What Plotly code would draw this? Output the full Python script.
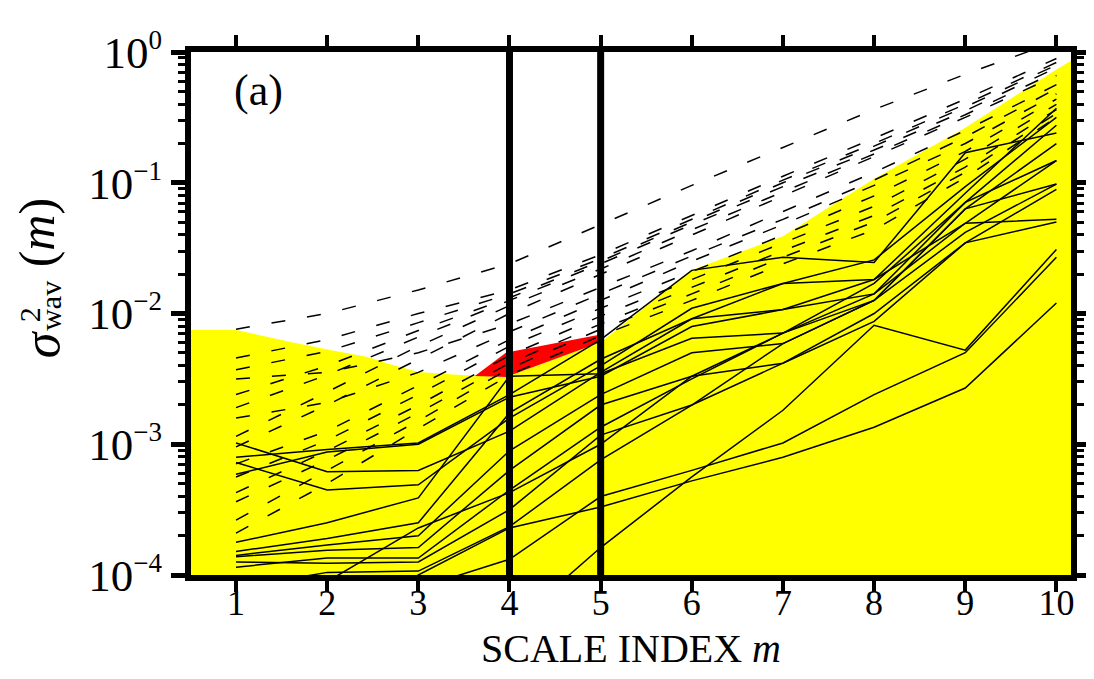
import numpy as np
import plotly.graph_objects as go

# ---------------- data (log10 of wavelet variance) ----------------
scales = [1, 2, 3, 4, 5, 6, 7, 8, 9, 10]

# upper edge of the yellow region
envelope_m = [0.45, 1.0, 1.6, 2.03, 2.43, 2.7, 3.0, 3.46, 3.96, 5.0, 6.0, 7.0, 8.0, 9.0, 10.0, 10.2]
envelope_log10 = [-2.126, -2.126, -2.218, -2.28, -2.33, -2.39, -2.447, -2.47, -2.486, -2.22,
                  -1.667, -1.41, -0.97, -0.58, -0.134, -0.05]

# red overlap region (upper edge, lower edge)
red_upper_m = [3.62, 3.96, 5.0]
red_upper_log10 = [-2.478, -2.30, -2.16]
red_lower_m = [5.0, 3.96, 3.62]
red_lower_log10 = [-2.22, -2.486, -2.478]

solid_log10 = [
    [-2.99, -3.21, -3.20, -2.90, -2.45, -2.04, -1.77, -1.59, -1.03, -0.50],
    [-3.10, -3.04, -2.99, -2.62, -2.20, -1.67, -1.57, -1.61, -0.77, -0.62],
    [-3.14, -3.35, -3.31, -2.80, -2.40, -1.96, -1.77, -1.74, -1.08, -0.43],
    [-3.23, -3.06, -3.00, -2.64, -2.48, -2.10, -1.97, -1.85, -1.15, -0.56],
    [-3.75, -3.60, -3.41, -2.48, -2.46, -2.19, -2.15, -1.90, -1.20, -0.70],
    [-3.82, -3.72, -3.60, -2.76, -2.35, -2.04, -1.97, -1.74, -1.31, -0.83],
    [-3.85, -3.77, -3.70, -3.05, -2.62, -2.30, -2.23, -1.90, -1.38, -1.01],
    [-3.86, -3.81, -3.79, -3.20, -2.70, -2.48, -2.38, -2.06, -1.46, -1.05],
    [-3.94, -3.87, -3.87, -3.35, -2.87, -2.50, -2.15, -1.85, -1.31, -1.28],
    [-3.90, -3.91, -3.90, -3.50, -2.93, -2.70, -2.38, -2.00, -1.46, -1.30],
    [-4.10, -3.98, -3.97, -3.63, -3.12, -2.70, -2.23, -1.90, -1.20, -1.01],
    [-4.40, -4.05, -3.64, -3.37, -3.00, -2.48, -2.15, -1.77, -1.15, -0.83],
    [-5.20, -4.90, -4.60, -4.40, -3.79, -3.25, -2.74, -2.09, -2.28, -1.51],
    [-4.80, -4.50, -4.00, -3.64, -3.48, -3.28, -3.10, -2.87, -2.57, -1.92],
    [-4.60, -4.30, -4.10, -3.88, -3.40, -3.20, -2.99, -2.62, -2.30, -1.57],
]

dashed_log10 = [
    [-2.12, -2.00, -1.82, -1.62, -1.32, -1.02, -0.73, -0.44, -0.17, 0.08],
    [-2.34, -2.20, -2.00, -1.82, -1.55, -1.25, -0.95, -0.66, -0.36, -0.05],
    [-2.43, -2.29, -2.07, -1.85, -1.58, -1.28, -0.98, -0.70, -0.40, -0.08],
    [-2.62, -2.40, -2.13, -1.88, -1.60, -1.30, -1.00, -0.72, -0.42, -0.10],
    [-2.72, -2.47, -2.18, -1.90, -1.62, -1.32, -1.03, -0.75, -0.45, -0.12],
    [-2.94, -2.60, -2.25, -1.94, -1.66, -1.36, -1.07, -0.78, -0.48, -0.15],
    [-3.02, -2.70, -2.35, -2.00, -1.70, -1.40, -1.10, -0.80, -0.50, -0.18],
    [-2.50, -2.45, -2.30, -2.08, -1.80, -1.52, -1.22, -0.92, -0.60, -0.25],
    [-2.80, -2.68, -2.45, -2.14, -1.85, -1.56, -1.28, -0.98, -0.65, -0.28],
    [-3.15, -2.90, -2.55, -2.20, -1.90, -1.60, -1.32, -1.02, -0.70, -0.32],
    [-3.25, -2.97, -2.62, -2.25, -1.96, -1.68, -1.40, -1.10, -0.76, -0.36],
    [-3.37, -3.05, -2.70, -2.32, -2.02, -1.74, -1.46, -1.18, -0.82, -0.40],
    [-3.44, -3.12, -2.76, -2.38, -2.08, -1.80, -1.52, -1.25, -0.88, -0.44],
    [-3.58, -3.20, -2.82, -2.42, -2.12, -1.85, -1.57, -1.30, -0.92, -0.47],
    [-3.68, -3.30, -2.88, -2.47, -2.17, -1.90, -1.62, -1.36, -0.96, -0.50],
]

marked_scales = [4, 5]
x_ticks = [1, 2, 3, 4, 5, 6, 7, 8, 9, 10]
y_tick_exponents = [-4, -3, -2, -1, 0]
minor_mantissas = [2, 3, 4, 5, 6, 7, 8, 9]

# ---------------- figure ----------------
FONT = "Liberation Serif"
fig = go.Figure()

floor = 1e-6
env_x = envelope_m + [envelope_m[-1], envelope_m[0]]
env_y = [10 ** v for v in envelope_log10] + [floor, floor]
fig.add_trace(go.Scatter(x=env_x, y=env_y, fill="toself", fillcolor="#FFFF00",
                         line=dict(width=0), mode="lines", hoverinfo="skip"))

red_x = red_upper_m + red_lower_m
red_y = [10 ** v for v in red_upper_log10 + red_lower_log10]
fig.add_trace(go.Scatter(x=red_x, y=red_y, fill="toself", fillcolor="#FF0000",
                         line=dict(width=0), mode="lines", hoverinfo="skip"))

for series in solid_log10:
    fig.add_trace(go.Scatter(x=scales, y=[10 ** v for v in series], mode="lines",
                             line=dict(color="black", width=1.5)))

for series in dashed_log10:
    fig.add_trace(go.Scatter(x=scales, y=[10 ** v for v in series], mode="lines",
                             line=dict(color="black", width=1.5, dash="14px,22px")))

for m in marked_scales:
    fig.add_shape(type="line", x0=m, x1=m, y0=0, y1=1, xref="x", yref="paper",
                  line=dict(color="black", width=7), layer="above")

ytext = ["10<sup><span style='font-size:27px'>\u2212%d</span></sup>" % (-e) if e < 0
         else "10<sup><span style='font-size:27px'>0</span></sup>" for e in y_tick_exponents]
minor_vals = [k * 10.0 ** e for e in y_tick_exponents[:-1] for k in minor_mantissas]

fig.update_layout(
    width=1094, height=679,
    margin=dict(l=183, r=11, t=44, b=112),
    paper_bgcolor="white", plot_bgcolor="white",
    showlegend=False,
    font=dict(family=FONT, color="black"),
    xaxis=dict(range=[0.506, 10.16], tickvals=x_ticks, ticks="outside", ticklen=11,
               tickwidth=4, tickcolor="black", showline=True, linewidth=6, linecolor="black",
               mirror="ticks", showgrid=False, zeroline=False, ticklabelstandoff=-20,
               tickfont=dict(family=FONT, size=36)),
    yaxis=dict(type="log", range=[-4, 0], tickvals=[10 ** e for e in y_tick_exponents],
               ticktext=ytext, ticks="outside", ticklen=14, tickwidth=5, tickcolor="black",
               showline=True, linewidth=6, linecolor="black", mirror="ticks",
               showgrid=False, zeroline=False, tickfont=dict(family=FONT, size=45),
               minor=dict(tickmode="array", tickvals=minor_vals, ticks="outside", ticklen=7,
                          tickwidth=3, tickcolor="black", showgrid=False)),
)

# x-axis title
fig.add_annotation(text="SCALE INDEX <i>m</i>", x=0.5, y=-0.14, xref="paper", yref="paper",
                   showarrow=False, font=dict(family=FONT, size=40),
                   xanchor="center", yanchor="middle")

fig.add_annotation(text="(a)", x=0.077, y=0.927, xref="paper", yref="paper",
                   showarrow=False, font=dict(family=FONT, size=44), xanchor="center", yanchor="middle")

# y-axis title: sigma with stacked superscript/subscript
fig.add_annotation(text="<i>\u03c3</i>", x=-0.170, y=0.442, xref="paper", yref="paper",
                   textangle=-90, showarrow=False, font=dict(family=FONT, size=52),
                   xanchor="center", yanchor="middle")
fig.add_annotation(text="2", x=-0.184, y=0.497, xref="paper", yref="paper",
                   textangle=-90, showarrow=False, font=dict(family=FONT, size=30),
                   xanchor="center", yanchor="middle")
fig.add_annotation(text="wav", x=-0.160, y=0.515, xref="paper", yref="paper",
                   textangle=-90, showarrow=False, font=dict(family=FONT, size=30),
                   xanchor="center", yanchor="middle")
fig.add_annotation(text="(<i>m</i>)", x=-0.174, y=0.655, xref="paper", yref="paper",
                   textangle=-90, showarrow=False, font=dict(family=FONT, size=50),
                   xanchor="center", yanchor="middle")

fig.write_html("out.html")
